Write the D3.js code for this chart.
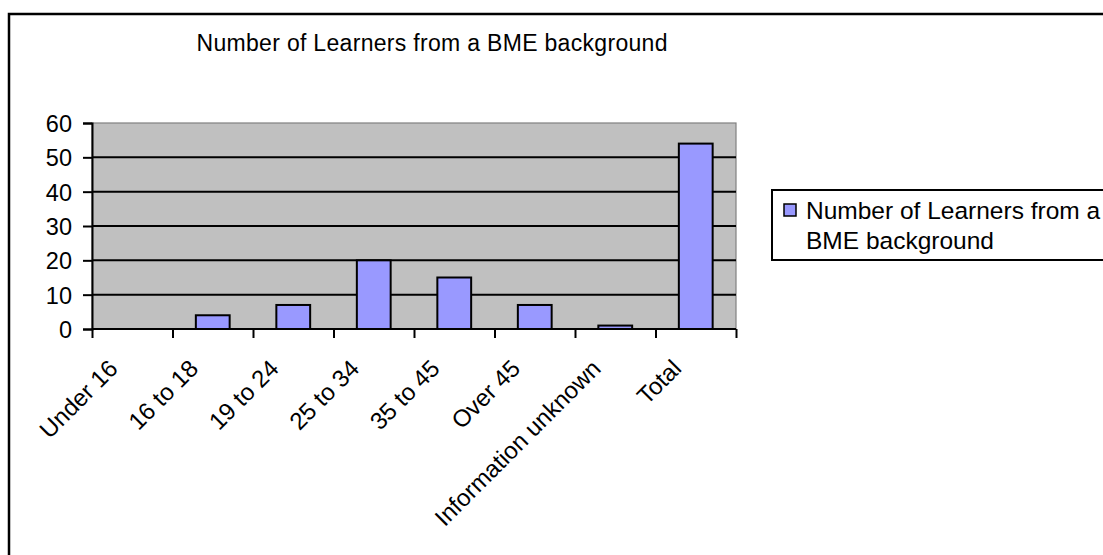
<!DOCTYPE html>
<html>
<head>
<meta charset="utf-8">
<script src="https://cdn.jsdelivr.net/npm/d3@7"></script>
<style>
  body { margin: 0; background: #fff; }
  text { font-family: "Liberation Sans", Arial, sans-serif; fill: #000; }
</style>
</head>
<body>
<div id="chart"></div>
<script>
// data
var categories = ["Under 16", "16 to 18", "19 to 24", "25 to 34", "35 to 45", "Over 45", "Information unknown", "Total"];
var learners = [0, 4, 7, 20, 15, 7, 1, 54];
var yTicks = [0, 10, 20, 30, 40, 50, 60];
var seriesName = "Number of Learners from a BME background";
var legendLines = ["Number of Learners from a", "BME background"];

var width = 1103, height = 555;
var plot = { left: 92, right: 736, top: 123, bottom: 329 };

var svg = d3.select("#chart").append("svg")
  .attr("width", width)
  .attr("height", height);

// outer chart frame (right and bottom edges fall outside the picture)
svg.append("rect")
  .attr("x", 9).attr("y", 14)
  .attr("width", 1110).attr("height", 560)
  .attr("fill", "none")
  .attr("stroke", "#000")
  .attr("stroke-width", 2.5);

svg.append("text")
  .attr("x", 432)
  .attr("y", 51)
  .style("text-anchor", "middle")
  .style("font-size", "23px")
  .attr("textLength", 471)
  .text(seriesName);

var x = d3.scaleBand()
  .domain(categories)
  .range([plot.left, plot.right])
  .paddingInner(0.58)
  .paddingOuter(0.29);

var xTickScale = d3.scaleLinear()
  .domain([0, categories.length])
  .range([plot.left, plot.right]);

var y = d3.scaleLinear()
  .domain([0, 60])
  .range([plot.bottom, plot.top]);

// grey plot area
svg.append("rect")
  .attr("x", plot.left).attr("y", plot.top)
  .attr("width", plot.right - plot.left)
  .attr("height", plot.bottom - plot.top)
  .attr("fill", "#c0c0c0")
  .attr("stroke", "#808080")
  .attr("stroke-width", 1.2);

// gridlines
svg.selectAll("line.grid")
  .data(yTicks.filter(d => d > 0 && d < 60))
  .enter()
  .append("line")
  .attr("class", "grid")
  .attr("x1", plot.left).attr("x2", plot.right)
  .attr("y1", d => y(d)).attr("y2", d => y(d))
  .attr("stroke", "#000")
  .attr("stroke-width", 2);

// bars
svg.selectAll("rect.bar")
  .data(learners)
  .enter()
  .append("rect")
  .attr("class", "bar")
  .attr("x", (d, i) => x(categories[i]))
  .attr("width", x.bandwidth())
  .attr("y", d => y(d))
  .attr("height", d => y(0) - y(d))
  .attr("fill", "#9999ff")
  .attr("stroke", "#000")
  .attr("stroke-width", d => d > 0 ? 2 : 0);

// y axis
var yAxis = d3.axisLeft(y)
  .tickValues(yTicks)
  .tickSize(9)
  .tickPadding(11)
  .tickFormat(d3.format("d"));

var gy = svg.append("g")
  .attr("transform", `translate(${plot.left},0)`)
  .call(yAxis);
gy.select(".domain").attr("stroke", "#000").attr("stroke-width", 2);
gy.selectAll(".tick line").attr("stroke", "#000").attr("stroke-width", 2);
gy.selectAll(".tick text")
  .style("font-size", "23.5px")
  .style("font-family", "'Liberation Sans', Arial, sans-serif")
  .attr("dy", "0.36em");

// x axis: ticks between categories
var xAxis = d3.axisBottom(xTickScale)
  .tickValues(d3.range(categories.length + 1))
  .tickSize(9)
  .tickFormat("");

var gx = svg.append("g")
  .attr("transform", `translate(0,${plot.bottom})`)
  .call(xAxis);
gx.select(".domain").attr("stroke", "#000").attr("stroke-width", 2)
  .attr("d", `M${plot.left},0H${plot.right}`);
gx.selectAll(".tick line").attr("stroke", "#000").attr("stroke-width", 2);

// rotated category labels
svg.selectAll("text.xlabel")
  .data(categories)
  .enter()
  .append("text")
  .attr("class", "xlabel")
  .attr("transform", d => `translate(${x(d) + x.bandwidth() / 2 - 13},370) rotate(-45)`)
  .style("text-anchor", "end")
  .style("font-size", "24px")
  .text(d => d);

// legend
var legend = svg.append("g");
legend.append("rect")
  .attr("x", 772).attr("y", 190)
  .attr("width", 400).attr("height", 70)
  .attr("fill", "#fff")
  .attr("stroke", "#000")
  .attr("stroke-width", 2);
legend.append("rect")
  .attr("x", 784).attr("y", 204)
  .attr("width", 12).attr("height", 12)
  .attr("fill", "#9999ff")
  .attr("stroke", "#000")
  .attr("stroke-width", 1.5);
legend.selectAll("text.leg")
  .data(legendLines)
  .enter()
  .append("text")
  .attr("class", "leg")
  .attr("x", 806)
  .attr("y", (d, i) => 219 + i * 30)
  .style("font-size", "24.5px")
  .text(d => d);
</script>
</body>
</html>
